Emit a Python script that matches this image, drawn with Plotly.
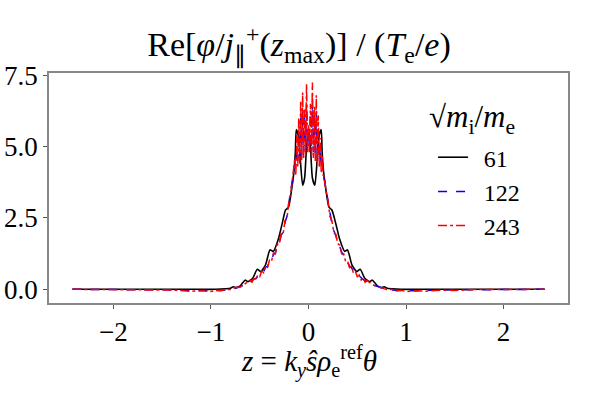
import plotly.graph_objects as go

# z = k_y s rho_e theta, shared by the 122 and 243 runs
z_hi = [
    -2.42, -2.0, -1.7, -1.5, -1.35, -1.2, -1.1, -1.0, -0.95, -0.9, -0.85, -0.8, -0.75, -0.7, -0.65,
    -0.6, -0.58, -0.56, -0.54, -0.52, -0.5, -0.48, -0.46, -0.44, -0.42, -0.4, -0.38, -0.36, -0.34, -0.32,
    -0.3, -0.28, -0.26, -0.24, -0.22, -0.2, -0.18, -0.16,
    -0.15, -0.14, -0.13, -0.12, -0.11, -0.1, -0.09, -0.08, -0.07, -0.06, -0.05, -0.04, -0.03, -0.02, -0.01,
    0.0, 0.01, 0.02, 0.03, 0.04, 0.05, 0.06, 0.07, 0.08, 0.09, 0.1, 0.11, 0.12, 0.13, 0.14, 0.15,
    0.16, 0.18, 0.2, 0.22, 0.24, 0.26, 0.28, 0.3, 0.32, 0.34, 0.36, 0.38, 0.4, 0.42, 0.44, 0.46, 0.48,
    0.5, 0.52, 0.54, 0.56, 0.58, 0.6,
    0.65, 0.7, 0.75, 0.8, 0.85, 0.9, 0.95, 1.0, 1.1, 1.2, 1.35, 1.5, 1.7, 2.0, 2.42,
]

phi_243 = [
    0, -0.01, -0.01, -0.04, -0.03, -0.07, -0.05, -0.08, -0.03, -0.05, 0.0, -0.01, 0.06, 0.08, 0.19,
    0.31, 0.25, 0.39, 0.33, 0.50, 0.44, 0.64, 0.58, 0.82, 0.75, 1.02, 0.97, 1.27, 1.24, 1.58,
    1.56, 1.96, 1.95, 2.42, 2.5, 3.12, 3.4, 4.0,
    4.1, 4.6, 4.0, 5.4, 4.3, 6.0, 4.4, 6.6, 4.5, 6.9, 4.6, 6.3, 4.7, 7.2, 4.8,
    5.8, 4.8, 6.5, 4.7, 7.25, 4.6, 6.4, 4.5, 6.8, 4.4, 6.1, 4.3, 5.3, 4.1, 4.7, 4.0,
    3.95, 3.45, 3.1, 2.55, 2.4, 1.98, 1.93, 1.6, 1.55, 1.25, 1.25, 0.98, 1.0, 0.76, 0.8, 0.58, 0.63,
    0.44, 0.5, 0.33, 0.39, 0.25, 0.31,
    0.18, 0.09, 0.05, -0.01, 0.0, -0.06, -0.03, -0.08, -0.05, -0.07, -0.03, -0.04, -0.01, -0.01, 0,
]

phi_122 = [
    0, 0.0, -0.01, -0.02, -0.03, -0.04, -0.05, -0.05, -0.04, -0.04, -0.02, 0.0, 0.04, 0.09, 0.17,
    0.28, 0.28, 0.36, 0.37, 0.47, 0.48, 0.60, 0.62, 0.78, 0.80, 0.97, 1.01, 1.22, 1.28, 1.52,
    1.61, 1.9, 2.0, 2.35, 2.56, 3.05, 3.45, 3.95,
    4.2, 4.4, 4.3, 4.9, 4.5, 5.5, 4.6, 6.0, 4.7, 6.3, 4.8, 6.0, 4.9, 6.5, 5.0,
    5.6, 5.0, 6.2, 4.9, 6.6, 4.8, 6.1, 4.7, 6.2, 4.6, 5.6, 4.5, 5.0, 4.3, 4.5, 4.1,
    3.9, 3.5, 3.0, 2.6, 2.3, 2.05, 1.88, 1.62, 1.5, 1.3, 1.2, 1.02, 0.95, 0.82, 0.76, 0.64, 0.58,
    0.5, 0.46, 0.39, 0.35, 0.3, 0.27,
    0.16, 0.1, 0.04, 0.0, -0.02, -0.04, -0.04, -0.05, -0.05, -0.04, -0.03, -0.02, -0.01, 0.0, 0,
]

# coarser run, sqrt(mi/me) = 61
z_61 = [
    -2.42, -1.6, -1.2, -0.95, -0.85, -0.8, -0.77, -0.74, -0.7, -0.65,
    -0.62, -0.57, -0.525, -0.49, -0.44, -0.395, -0.36, -0.31, -0.27, -0.235,
    -0.205, -0.175, -0.15, -0.135, -0.125, -0.105, -0.085, -0.06, -0.04, -0.02,
    0.0, 0.02, 0.04, 0.065, 0.09, 0.11, 0.13, 0.14, 0.155, 0.18,
    0.21, 0.24, 0.28, 0.32, 0.37, 0.4, 0.445, 0.495, 0.53, 0.575,
    0.625, 0.655, 0.705, 0.745, 0.775, 0.805, 0.855, 0.95, 1.2, 1.6, 2.42,
]
phi_61 = [
    0, 0, 0, 0, 0.02, 0.04, 0.09, 0.06, 0.12, 0.32,
    0.27, 0.40, 0.70, 0.62, 0.86, 1.38, 1.33, 1.75, 2.3, 2.78,
    2.88, 3.45, 4.1, 4.8, 5.6, 5.4, 4.6, 3.65, 3.9, 5.0,
    5.6, 5.0, 3.9, 3.65, 4.6, 5.4, 5.6, 4.8, 4.1, 3.45,
    2.88, 2.78, 2.3, 1.75, 1.33, 1.38, 0.86, 0.62, 0.70, 0.40,
    0.27, 0.32, 0.12, 0.06, 0.09, 0.04, 0.02, 0, 0, 0, 0,
]

labels = ["61", "122", "243"]
xticks = [-2, -1, 0, 1, 2]
yticks = [0, 2.5, 5, 7.5]
yticktext = ["0.0", "2.5", "5.0", "7.5"]

FONT = "Liberation Serif"
PAD = "\u00a0\u2009"  # gap between legend line and label

fig = go.Figure()
fig.add_trace(go.Scatter(x=z_61, y=phi_61, mode="lines", name=PAD + labels[0],
                         line=dict(color="black", width=1.6, shape="spline", smoothing=0.6)))
fig.add_trace(go.Scatter(x=z_hi, y=phi_122, mode="lines", name=PAD + labels[1],
                         line=dict(color="#0000ff", width=1.5, dash="dash")))
fig.add_trace(go.Scatter(x=z_hi, y=phi_243, mode="lines", name=PAD + labels[2],
                         line=dict(color="#ff0000", width=1.5, dash="dashdot")))

fig.update_layout(
    width=598, height=399,
    margin=dict(l=49, r=30, t=73, b=96),
    paper_bgcolor="white", plot_bgcolor="white",
    font=dict(family=FONT, size=24, color="black"),
    title=dict(
        text="Re[<i>φ</i>/<i>j</i><sub>∥</sub><sup>+</sup>(<i>z</i><sub>max</sub>)] / (<i>T</i><sub>e</sub>/<i>e</i>)",
        x=0.5, xanchor="center", y=1 - 44 / 399, yanchor="middle", yref="container",
        font=dict(family=FONT, size=34),
    ),
    legend=dict(
        x=0.74, y=0.73, xanchor="left", yanchor="top",
        bgcolor="rgba(0,0,0,0)",
        font=dict(family=FONT, size=24),
    ),
)

# legend heading
fig.add_annotation(
    text="√<i>m</i><sub>i</sub>/<i>m</i><sub>e</sub>",
    xref="paper", yref="paper", x=0.815, y=0.80, xanchor="center", yanchor="middle",
    showarrow=False, font=dict(family=FONT, size=31),
)
# x axis label
fig.add_annotation(
    text="<i>z</i> = <i>k<sub>y</sub>ŝρ</i><sub>e</sub><sup>ref</sup><i>θ</i>",
    xref="paper", yref="paper", x=0.5, y=-0.255, xanchor="center", yanchor="middle",
    showarrow=False, font=dict(family=FONT, size=29),
)

fig.update_xaxes(
    range=[-2.66, 2.66], tickvals=xticks, ticks="outside", ticklen=4, tickcolor="#555",
    showline=True, mirror=True, linecolor="#888", linewidth=1.5, showgrid=False, zeroline=False,
    tickfont=dict(size=27), automargin=False,
)
fig.update_yaxes(
    range=[-0.48, 7.58], tickvals=yticks, ticktext=yticktext, ticks="outside", ticklen=4,
    tickcolor="#555", showline=True, mirror=True, linecolor="#888", linewidth=1.5,
    showgrid=False, zeroline=False, tickfont=dict(size=27), automargin=False,
)

# drop the browser's default 8px body margin so the figure sits at the page corner
fig.write_html("out.html", config={"displayModeBar": False},
               post_script="document.body.style.margin='0px';")
